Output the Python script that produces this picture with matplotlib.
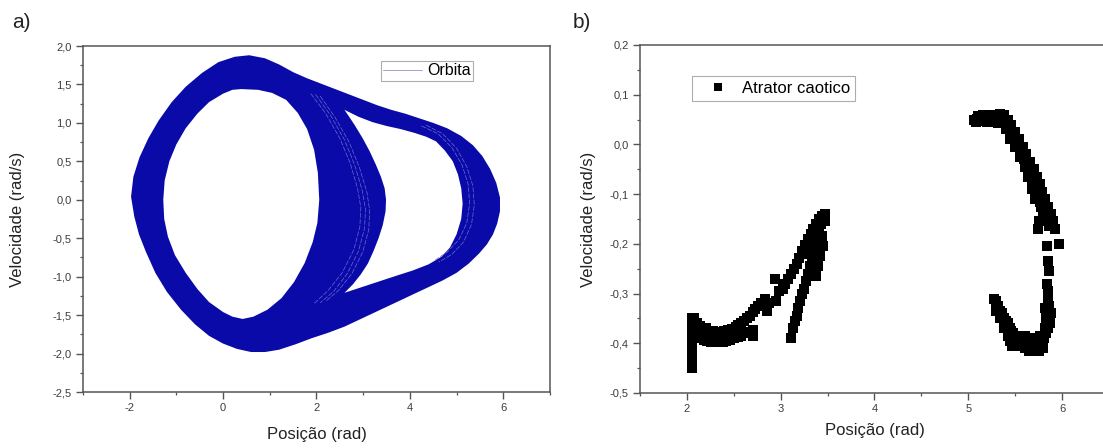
import numpy as np
import matplotlib.pyplot as plt
from matplotlib.ticker import MultipleLocator, FuncFormatter

plt.rcParams['font.family'] = ['Liberation Sans', 'DejaVu Sans']
plt.rcParams['axes.unicode_minus'] = False

# ---- (a) orbit band: outer edge and the two empty lobes (rad, rad/s)
outer_x = [-1.97, -1.92, -1.79, -1.60, -1.38, -1.10, -0.80, -0.45, -0.10, 0.25, 0.56, 0.90,
           1.20, 1.50, 1.80, 2.10, 2.40, 2.70, 3.00, 3.30, 3.60, 3.90, 4.20, 4.50, 4.80, 5.10,
           5.35, 5.55, 5.72, 5.85, 5.93, 5.93, 5.87, 5.78, 5.65, 5.48, 5.26, 5.00, 4.70, 4.35,
           4.00, 3.65, 3.30, 2.95, 2.60, 2.25, 1.90, 1.55, 1.20, 0.90, 0.60, 0.30, 0.00, -0.30,
           -0.60, -0.90, -1.20, -1.45, -1.65, -1.80, -1.90]
outer_y = [0.04, 0.30, 0.55, 0.80, 1.03, 1.27, 1.47, 1.65, 1.79, 1.86, 1.88, 1.84,
           1.76, 1.66, 1.58, 1.51, 1.44, 1.37, 1.30, 1.23, 1.17, 1.12, 1.06, 1.00, 0.93, 0.83,
           0.71, 0.57, 0.40, 0.22, 0.03, -0.15, -0.31, -0.45, -0.58, -0.70, -0.83, -0.95, -1.05, -1.15,
           -1.25, -1.35, -1.45, -1.55, -1.65, -1.73, -1.80, -1.88, -1.95, -1.98, -1.98, -1.94, -1.87, -1.77,
           -1.62, -1.43, -1.20, -0.95, -0.68, -0.45, -0.22]

lobe1_x = [0.39, 0.75, 1.05, 1.35, 1.60, 1.80, 1.95, 2.03, 2.06, 2.02, 1.92, 1.75, 1.52, 1.25,
           0.95, 0.65, 0.42, 0.20, 0.00, -0.30, -0.55, -0.80, -1.03, -1.18, -1.26, -1.28, -1.25,
           -1.15, -1.00, -0.80, -0.55, -0.30, 0.00, 0.20]
lobe1_y = [1.44, 1.43, 1.39, 1.30, 1.13, 0.92, 0.65, 0.35, 0.00, -0.30, -0.55, -0.82, -1.07, -1.28,
           -1.43, -1.52, -1.55, -1.52, -1.46, -1.33, -1.16, -0.95, -0.72, -0.48, -0.25, 0.00, 0.25,
           0.50, 0.72, 0.93, 1.12, 1.27, 1.38, 1.43]

lobe2_x = [2.60, 2.90, 3.20, 3.50, 3.80, 4.10, 4.35, 4.56, 4.75, 4.92, 5.03, 5.10, 5.13, 5.10,
           5.00, 4.86, 4.68, 4.40, 4.06, 3.70, 3.35, 2.95, 2.60, 2.78, 2.95, 3.10, 3.22, 3.33,
           3.42, 3.48, 3.49, 3.46, 3.38, 3.27, 3.14, 2.99, 2.82, 2.70]
lobe2_y = [1.17, 1.08, 1.01, 0.96, 0.92, 0.87, 0.82, 0.76, 0.64, 0.50, 0.33, 0.15, -0.05, -0.25,
           -0.45, -0.62, -0.74, -0.84, -0.92, -0.99, -1.06, -1.14, -1.21, -1.10, -0.97, -0.83, -0.67, -0.50,
           -0.33, -0.15, 0.00, 0.15, 0.30, 0.46, 0.63, 0.80, 0.97, 1.08]

# lighter trajectory strands visible inside the band
strand_a_x = [1.88, 2.20, 2.50, 2.72, 2.88, 2.95, 2.93, 2.80, 2.55, 2.25, 1.95]
strand_a_y = [1.38, 1.12, 0.80, 0.48, 0.15, -0.10, -0.35, -0.65, -0.95, -1.18, -1.35]
strand_b_x = [1.98, 2.30, 2.60, 2.82, 2.98, 3.05, 3.03, 2.90, 2.66, 2.37, 2.08]
strand_b_y = [1.37, 1.10, 0.78, 0.45, 0.12, -0.12, -0.37, -0.67, -0.96, -1.19, -1.34]
strand_c_x = [2.08, 2.40, 2.70, 2.92, 3.08, 3.14, 3.12, 2.99, 2.76, 2.47, 2.20]
strand_c_y = [1.35, 1.07, 0.75, 0.42, 0.10, -0.14, -0.39, -0.68, -0.96, -1.18, -1.32]
strand_d_x = [4.25, 4.60, 4.90, 5.12, 5.25, 5.28, 5.22, 5.05, 4.80, 4.55]
strand_d_y = [0.96, 0.86, 0.68, 0.45, 0.20, -0.05, -0.30, -0.52, -0.68, -0.78]
strand_e_x = [4.35, 4.70, 5.00, 5.22, 5.35, 5.38, 5.32, 5.15, 4.90, 4.62]
strand_e_y = [0.97, 0.86, 0.67, 0.43, 0.18, -0.07, -0.32, -0.55, -0.71, -0.81]

# ---- (b) Poincare section points
atr_x = [2.05, 2.06, 2.05, 2.06, 2.05, 2.06, 2.05, 2.06, 2.05, 2.06, 2.06, 2.08, 2.09, 2.08,
         2.11, 2.14, 2.17, 2.20, 2.24, 2.28, 2.32, 2.36, 2.40, 2.44, 2.48, 2.52, 2.55, 2.58,
         2.61, 2.64, 2.67, 2.70, 2.73, 2.76, 2.79, 2.83,
         2.11, 2.14, 2.18, 2.22, 2.26, 2.30, 2.34, 2.38, 2.42, 2.46, 2.50, 2.54, 2.58, 2.62,
         2.66, 2.70, 2.71,
         2.88, 2.95, 2.94, 2.98, 3.02, 2.85,
         3.05, 3.08, 3.11, 3.14, 3.17, 3.20, 3.23, 3.26, 3.29, 3.32, 3.35, 3.38, 3.41, 3.44,
         3.47, 3.47,
         3.11, 3.13, 3.15, 3.17, 3.19, 3.21, 3.23, 3.25, 3.27, 3.29, 3.31, 3.33, 3.35, 3.37,
         3.39, 3.41, 3.43, 3.45,
         3.45, 3.42, 3.40, 3.38, 3.44, 3.32, 3.30,
         5.06, 5.09, 5.12, 5.15, 5.18, 5.21, 5.24, 5.27, 5.30, 5.33, 5.36, 5.38, 5.08, 5.14,
         5.20, 5.26, 5.32,
         5.10, 5.16, 5.22, 5.28, 5.34,
         5.40, 5.42, 5.45, 5.47, 5.50, 5.52, 5.55, 5.57, 5.59, 5.62, 5.64, 5.66, 5.68, 5.70,
         5.72, 5.74, 5.76, 5.78, 5.80, 5.82, 5.84, 5.86, 5.90, 5.92,
         5.40, 5.45, 5.50, 5.55, 5.60, 5.64, 5.68, 5.71,
         5.38, 5.42, 5.46, 5.50, 5.54, 5.58, 5.62, 5.66, 5.70, 5.73, 5.76, 5.79, 5.82, 5.85,
         5.88, 5.90,
         5.76, 5.75, 5.74, 5.97, 5.84, 5.85, 5.86,
         5.84, 5.85, 5.85, 5.86, 5.87, 5.86, 5.85, 5.87, 5.88,
         5.27, 5.30, 5.32, 5.34, 5.36, 5.38, 5.40, 5.42, 5.44, 5.46, 5.48, 5.50, 5.53, 5.56,
         5.59, 5.62, 5.65, 5.68, 5.71, 5.74, 5.77, 5.79, 5.81, 5.83,
         5.30, 5.34, 5.38, 5.42, 5.45, 5.47, 5.62, 5.66, 5.70, 5.75,
         5.50, 5.55, 5.60, 5.65, 5.70, 5.75, 5.80, 5.60, 5.68, 5.76, 5.82, 5.83, 5.82]
atr_y = [-0.35, -0.36, -0.37, -0.38, -0.39, -0.40, -0.41, -0.42, -0.43, -0.44, -0.45, -0.35, -0.37, -0.39,
         -0.36, -0.365, -0.37, -0.37, -0.375, -0.375, -0.377, -0.378, -0.376, -0.374, -0.372, -0.368, -0.364, -0.36,
         -0.355, -0.35, -0.345, -0.338, -0.332, -0.325, -0.318, -0.31,
         -0.385, -0.39, -0.393, -0.395, -0.397, -0.398, -0.398, -0.397, -0.396, -0.393, -0.39, -0.387, -0.385, -0.38,
         -0.377, -0.374, -0.385,
         -0.32, -0.315, -0.27, -0.295, -0.29, -0.335,
         -0.28, -0.27, -0.26, -0.25, -0.24, -0.228, -0.215, -0.203, -0.19, -0.18, -0.17, -0.16, -0.15, -0.145,
         -0.14, -0.155,
         -0.39, -0.37, -0.355, -0.345, -0.33, -0.315, -0.30, -0.29, -0.275, -0.26, -0.245, -0.23, -0.215, -0.20,
         -0.185, -0.17, -0.16, -0.15,
         -0.205, -0.225, -0.245, -0.265, -0.185, -0.21, -0.22,
         0.05, 0.052, 0.054, 0.055, 0.055, 0.054, 0.056, 0.055, 0.053, 0.055, 0.058, 0.05, 0.045, 0.047,
         0.046, 0.045, 0.044,
         0.058, 0.06, 0.06, 0.06, 0.062,
         0.045, 0.035, 0.028, 0.02, 0.01, 0.0, -0.01, -0.02, -0.03, -0.04, -0.05, -0.06, -0.075, -0.085,
         -0.095, -0.105, -0.115, -0.125, -0.135, -0.145, -0.155, -0.165, -0.165, -0.17,
         0.03, 0.01, -0.005, -0.025, -0.045, -0.065, -0.09, -0.11,
         0.06, 0.05, 0.04, 0.025, 0.01, -0.005, -0.02, -0.035, -0.05, -0.065, -0.08, -0.095, -0.11, -0.125,
         -0.14, -0.155,
         -0.105, -0.155, -0.17, -0.20, -0.205, -0.235, -0.255,
         -0.28, -0.295, -0.31, -0.325, -0.34, -0.355, -0.37, -0.36, -0.34,
         -0.31, -0.315, -0.325, -0.335, -0.34, -0.35, -0.355, -0.36, -0.37, -0.375, -0.38, -0.385, -0.39, -0.395,
         -0.398, -0.402, -0.405, -0.408, -0.41, -0.41, -0.405, -0.398, -0.39, -0.38,
         -0.335, -0.35, -0.37, -0.385, -0.395, -0.405, -0.39, -0.395, -0.40, -0.395,
         -0.40, -0.405, -0.41, -0.415, -0.415, -0.415, -0.41, -0.385, -0.39, -0.385, -0.37, -0.35, -0.33]

blue = '#0a0aa8'
strand_c = '#6a6ad6'
spine_c = '#555555'
tick_c = '#3c3c3c'


def comma(v, pos):
    return f"{v:.1f}".replace('.', ',')


def style(ax):
    for s in ax.spines.values():
        s.set_color(spine_c)
        s.set_linewidth(1.1)
    ax.tick_params(which='both', direction='out', top=False, right=False,
                   color=spine_c, labelcolor=tick_c, labelsize=8)
    ax.tick_params(which='major', length=5, width=1.0, pad=3)
    ax.tick_params(which='minor', length=2.5, width=0.9)
    ax.yaxis.set_major_formatter(FuncFormatter(comma))
    ax.xaxis.set_major_formatter(FuncFormatter(lambda v, p: f"{v:.0f}"))


fig = plt.figure(figsize=(11.03, 4.48), dpi=100)
ax1 = fig.add_axes([0.0752, 0.125, 0.4234, 0.7723])
ax2 = fig.add_axes([0.5802, 0.1228, 0.4252, 0.7768])

# (a)
ax1.fill(outer_x, outer_y, color=blue, lw=0, zorder=1)
ax1.fill(lobe1_x, lobe1_y, color='white', lw=0, zorder=2)
ax1.fill(lobe2_x, lobe2_y, color='white', lw=0, zorder=2)
dash = (0, (7, 2))
ax1.plot(strand_a_x, strand_a_y, color=strand_c, lw=0.5, ls=dash, zorder=3, label='Orbita')
for sx, sy in [(strand_b_x, strand_b_y), (strand_c_x, strand_c_y),
               (strand_d_x, strand_d_y), (strand_e_x, strand_e_y)]:
    ax1.plot(sx, sy, color=strand_c, lw=0.5, ls=dash, zorder=3)
ax1.set_xlim(-3, 7)
ax1.set_ylim(-2.5, 2.0)
ax1.xaxis.set_major_locator(MultipleLocator(2))
ax1.xaxis.set_minor_locator(MultipleLocator(1))
ax1.yaxis.set_major_locator(MultipleLocator(0.5))
ax1.yaxis.set_minor_locator(MultipleLocator(0.25))
style(ax1)
ax1.set_xlabel('Posição (rad)', fontsize=12, color='#222222')
ax1.set_ylabel('Velocidade (rad/s)', fontsize=12, color='#222222')
ax1.xaxis.set_label_coords(0.5, -0.10)
ax1.yaxis.set_label_coords(-0.124, 0.5)
leg1 = ax1.legend(loc='upper left', bbox_to_anchor=(0.3454, 0.8638), bbox_transform=fig.transFigure,
                  fontsize=11.5, frameon=True, fancybox=False, borderpad=0.15, handlelength=2.4,
                  handletextpad=0.35, borderaxespad=0)
leg1.get_frame().set_edgecolor('#999999')
leg1.get_frame().set_linewidth(0.8)
leg1.get_lines()[0].set_linestyle('-')
leg1.get_lines()[0].set_color('#8080c0')

# (b)
ax2.plot(atr_x, atr_y, 's', color='black', ms=7.0, mew=0, label='Atrator caotico')
ax2.set_xlim(1.5, 6.5)
ax2.set_ylim(-0.5, 0.2)
ax2.xaxis.set_major_locator(MultipleLocator(1))
ax2.xaxis.set_minor_locator(MultipleLocator(0.5))
ax2.yaxis.set_major_locator(MultipleLocator(0.1))
ax2.yaxis.set_minor_locator(MultipleLocator(0.05))
style(ax2)
ax2.set_xlabel('Posição (rad)', fontsize=12, color='#222222')
ax2.set_ylabel('Velocidade (rad/s)', fontsize=12, color='#222222')
ax2.xaxis.set_label_coords(0.5, -0.085)
ax2.yaxis.set_label_coords(-0.093, 0.5)
leg2 = ax2.legend(loc='upper left', bbox_to_anchor=(0.6274, 0.8304), bbox_transform=fig.transFigure,
                  fontsize=12, frameon=True, fancybox=False, borderpad=0.3, numpoints=1,
                  handlelength=2.5, handletextpad=0.2, borderaxespad=0, markerscale=0.8)
leg2.get_frame().set_edgecolor('#999999')
leg2.get_frame().set_linewidth(0.8)

fig.text(0.011, 0.972, 'a)', fontsize=15, va='top', ha='left', color='#222222')
fig.text(0.519, 0.972, 'b)', fontsize=15, va='top', ha='left', color='#222222')

fig.savefig('out.png', dpi=100)
